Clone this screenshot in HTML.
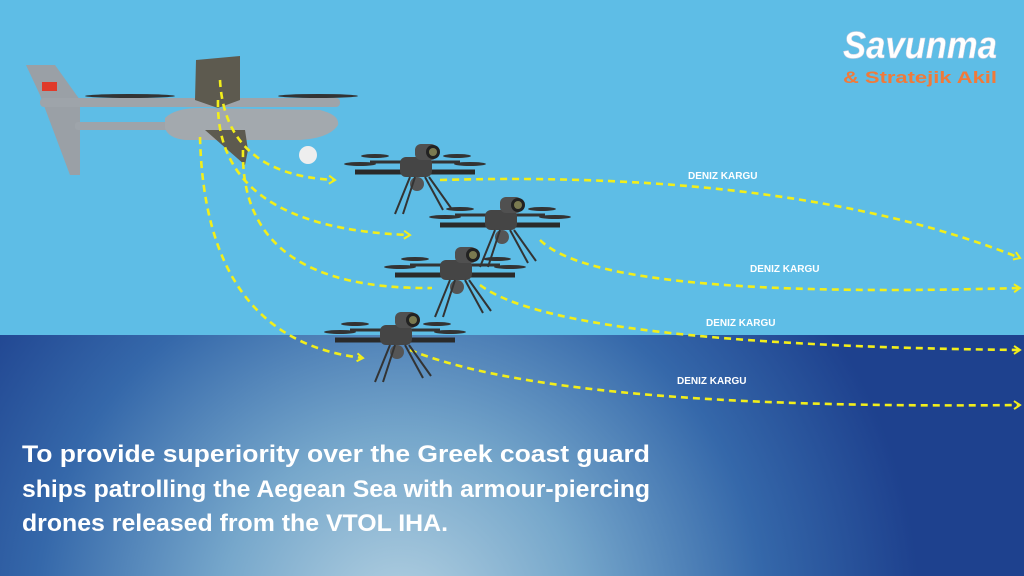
<!DOCTYPE html>
<html><head><meta charset="utf-8"><style>html,body{margin:0;padding:0;width:1024px;height:576px;overflow:hidden}</style></head>
<body>
<svg width="1024" height="576" viewBox="0 0 1024 576" xmlns="http://www.w3.org/2000/svg" font-family="Liberation Sans, sans-serif">
<defs>
<radialGradient id="sea" cx="400" cy="620" r="520" gradientUnits="userSpaceOnUse">
<stop offset="0" stop-color="#b5d2e2"/><stop offset="0.35" stop-color="#76a7cb"/><stop offset="0.7" stop-color="#3568aa"/><stop offset="1" stop-color="#1e418e"/></radialGradient>
<g id="drone">
<line x1="-60" y1="0" x2="60" y2="0" stroke="#2a2a2a" stroke-width="5"/>
<line x1="-45" y1="-10" x2="45" y2="-10" stroke="#333" stroke-width="3"/>
<ellipse cx="-55" cy="-8" rx="16" ry="2" fill="#333"/><ellipse cx="55" cy="-8" rx="16" ry="2" fill="#333"/>
<ellipse cx="-40" cy="-16" rx="14" ry="2" fill="#333"/><ellipse cx="42" cy="-16" rx="14" ry="2" fill="#333"/>
<rect x="-15" y="-15" width="32" height="20" rx="6" fill="#454545"/>
<rect x="0" y="-28" width="22" height="16" rx="6" fill="#505050"/>
<circle cx="18" cy="-20" r="7" fill="#222"/><circle cx="18" cy="-20" r="4" fill="#7a7a50"/>
<circle cx="2" cy="12" r="7" fill="#555"/>
<line x1="-5" y1="5" x2="-20" y2="42" stroke="#333" stroke-width="2"/>
<line x1="0" y1="5" x2="-12" y2="42" stroke="#333" stroke-width="2"/>
<line x1="10" y1="5" x2="28" y2="38" stroke="#333" stroke-width="2"/>
<line x1="14" y1="5" x2="36" y2="36" stroke="#333" stroke-width="2"/>
</g>
<marker id="ah" markerWidth="10" markerHeight="10" refX="7" refY="5" orient="auto" markerUnits="userSpaceOnUse"><path d="M1,1 L7,5 L1,9" fill="none" stroke="#f2ee1a" stroke-width="2"/></marker>
</defs>
<rect width="1024" height="336" fill="#5ebde6"/>
<rect y="335" width="1024" height="241" fill="url(#sea)"/>
<g>
<polygon points="26,65 55,65 80,100 80,175 70,175 40,95" fill="#9aa0a6"/>
<rect x="42" y="82" width="15" height="9" fill="#e03a2a"/>
<rect x="40" y="98" width="300" height="9" rx="4" fill="#9ea4aa"/>
<rect x="75" y="122" width="95" height="8" rx="3" fill="#9ea4aa"/>
<path d="M165,118 Q175,108 200,108 L320,110 Q340,115 338,125 Q330,138 300,140 L185,140 Q168,138 165,128 Z" fill="#a3a9ae"/>
<polygon points="196,60 240,56 240,100 218,108 195,100" fill="#5d5a4f"/>
<polygon points="205,130 245,130 248,150 245,165" fill="#5d5a4f"/>
<circle cx="308" cy="155" r="9" fill="#eee"/>
<ellipse cx="130" cy="96" rx="45" ry="2" fill="#333"/>
<ellipse cx="318" cy="96" rx="40" ry="2" fill="#333"/>
</g>
<g fill="none" stroke="#f2ee1a" stroke-width="2.6" stroke-dasharray="7,5">
<path d="M220,80 Q225,175 335,180" marker-end="url(#ah)"/>
<path d="M218,100 Q215,228 410,235" marker-end="url(#ah)"/>
<path d="M243,150 Q240,290 432,288"/>
<path d="M200,137 Q205,340 363,358" marker-end="url(#ah)"/>
<path d="M440,180 Q800,170 1020,258" marker-end="url(#ah)"/>
<path d="M540,240 Q600,300 1020,288" marker-end="url(#ah)"/>
<path d="M480,285 Q560,345 1020,350" marker-end="url(#ah)"/>
<path d="M410,350 Q560,410 1020,405" marker-end="url(#ah)"/>
</g>
<use href="#drone" x="415" y="172"/>
<use href="#drone" x="500" y="225"/>
<use href="#drone" x="455" y="275"/>
<use href="#drone" x="395" y="340"/>
<g fill="#fff" font-size="10" font-weight="bold">
<text x="688" y="179">DENIZ  KARGU</text>
<text x="750" y="272">DENIZ  KARGU</text>
<text x="706" y="326">DENIZ  KARGU</text>
<text x="677" y="384">DENIZ  KARGU</text>
</g>
<text x="843" y="58" font-size="38" font-weight="bold" font-style="italic" fill="#fff" stroke="#ccd" stroke-width="0.5" textLength="154" lengthAdjust="spacingAndGlyphs">Savunma</text>
<text x="843" y="83" font-size="17" font-weight="bold" fill="#f07a3a" textLength="154" lengthAdjust="spacingAndGlyphs">&amp; Stratejik Akil</text>
<g fill="#fff" font-size="24" font-weight="bold">
<text x="22" y="462" textLength="628" lengthAdjust="spacingAndGlyphs">To provide superiority over the Greek coast guard</text>
<text x="22" y="497" textLength="628" lengthAdjust="spacingAndGlyphs">ships patrolling the Aegean Sea with armour-piercing</text>
<text x="22" y="531" textLength="426" lengthAdjust="spacingAndGlyphs">drones released from the VTOL IHA.</text>
</g>
</svg>
</body></html>
